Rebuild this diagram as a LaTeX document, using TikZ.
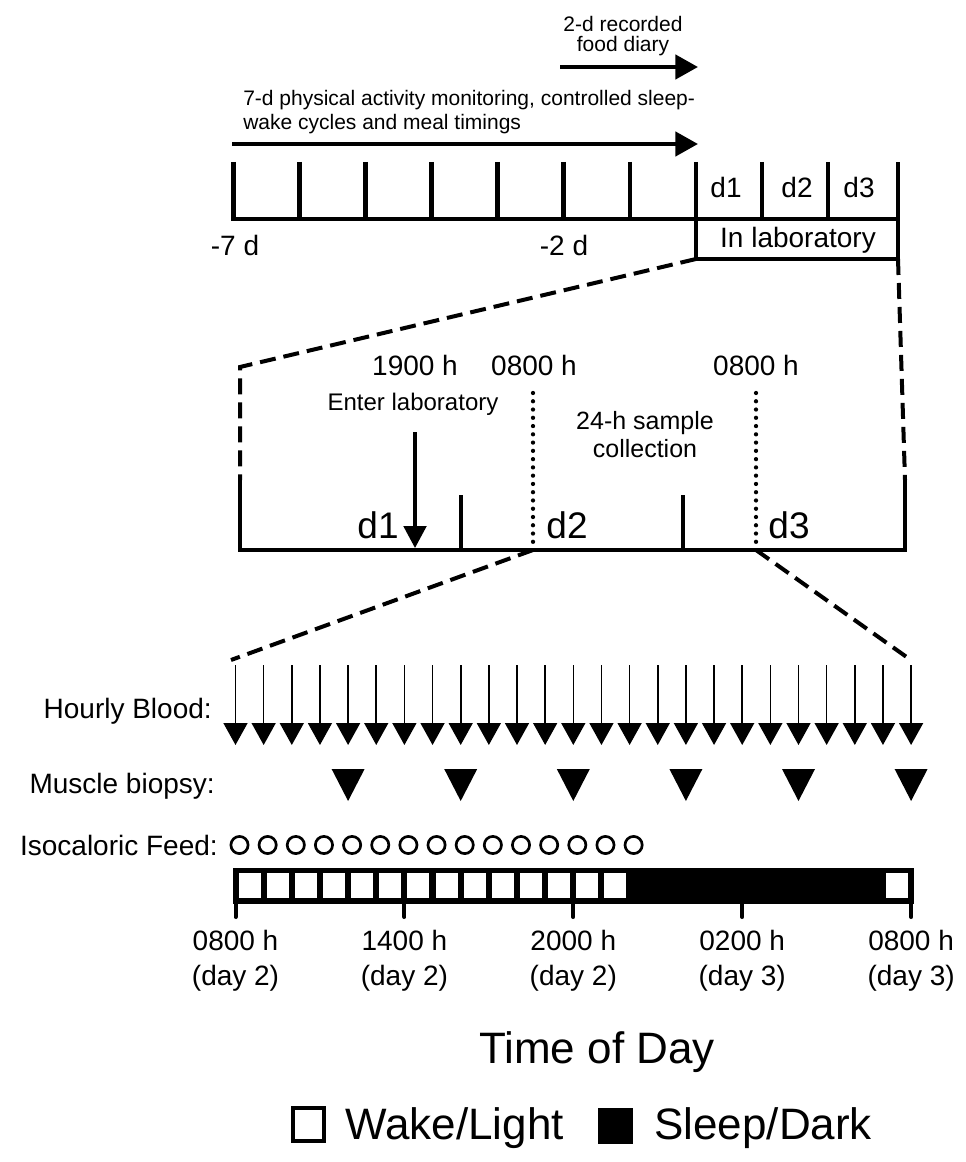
\documentclass[tikz,border=0pt]{standalone}
\usepackage{fontspec}
\setmainfont{Liberation Sans}
\usetikzlibrary{arrows.meta}
\begin{document}
\begin{tikzpicture}[x=0.75pt,y=-0.75pt,
  desc/.style={font=\fontsize{15.75}{15.4}\selectfont, inner sep=0, anchor=base},
  lbl/.style={font=\fontsize{21}{26.25}\selectfont, inner sep=0, anchor=base},
  enterlbl/.style={font=\fontsize{18}{18}\selectfont, inner sep=0, anchor=base},
  midlbl/.style={font=\fontsize{18.75}{20.5}\selectfont, inner sep=0, anchor=base},
  daylbl/.style={font=\fontsize{27.75}{28}\selectfont, inner sep=0, anchor=base},
  biglbl/.style={font=\fontsize{33}{33}\selectfont, inner sep=0, anchor=base},
  axis/.style={line width=3.5pt},
  tickline/.style={line width=3.5pt},
  midtick/.style={line width=3pt},
  bigarrow/.style={line width=3.4pt, -{Triangle[length=17pt,width=18pt]}},
  enterarrow/.style={line width=2.4pt, -{Triangle[length=16.5pt,width=17pt]}},
  zoomline/.style={line width=3pt, dash pattern=on 12pt off 6pt},
  dotline/.style={line width=3.2pt, line cap=round, dash pattern=on 0pt off 6.2pt},
  bloodarrow/.style={line width=1.2pt, -{Triangle[length=16.5pt,width=18pt]}},
  feed/.style={line width=2pt},
  bartick/.style={line width=3pt, line cap=round},
]
\useasboundingbox (0,0) rectangle (965,1162);
\fill[white] (0,0) rectangle (965,1162);

% ---------------- top timeline ----------------
\node[desc, align=center] (diary) at (623,52) {2-d recorded\\food diary};
\coordinate (diaryS) at (560,67);
\coordinate (diaryE) at (698,67);
\draw[bigarrow] (diaryS) -- (diaryE);

\node[desc, anchor=base west, align=left, font=\fontsize{15.75}{18}\selectfont] (monitor) at (243,130)
  {7-d physical activity monitoring, controlled sleep-\\wake cycles and meal timings};
\coordinate (monS) at (232,144);
\coordinate (monE) at (698,144);
\draw[bigarrow] (monS) -- (monE);

\draw[axis] (233.3,162) -- (233.3,219) -- (898,219);
\foreach \x in {299.4,365.5,431.6,497.7,563.8,629.9,762,828}
  \draw[tickline] (\x,162) -- (\x,219);
\draw[axis] (696,162) -- (696,259) -- (898,259) -- (898,162);

\node[lbl] (m7) at (235,256) {-7 d};
\node[lbl] (m2) at (564,256) {-2 d};
\node[lbl] (td1) at (726,198) {d1};
\node[lbl] (td2) at (797,198) {d2};
\node[lbl] (td3) at (859,198) {d3};
\node[lbl] (inlab) at (798,248) {In laboratory};

% ---------------- middle (in laboratory) ----------------
\coordinate (labBL) at (696,259);
\coordinate (labBR) at (898,259);
\coordinate (midTL) at (240,367);
\coordinate (midL) at (240,480);
\coordinate (midR) at (905,480);
\draw[zoomline] (labBL) -- (midTL) -- (midL);
\draw[zoomline] (labBR) -- (midR);
\draw[axis] (midL) -- (240,550) -- (905,550) -- (midR);
\draw[midtick] (461,495) -- (461,550);
\draw[midtick] (683,495) -- (683,550);
\draw[dotline] (533,393) -- (533,550);
\draw[dotline] (756,393) -- (756,550);

\node[lbl] (t1900) at (415,375) {1900 h};
\node[lbl] (t0800a) at (534,375) {0800 h};
\node[lbl] (t0800b) at (756,375) {0800 h};
\node[enterlbl] (enter) at (413,410) {Enter laboratory};
\coordinate (enterS) at (415,432);
\coordinate (enterE) at (415,548);
\draw[enterarrow] (enterS) -- (enterE);
\node[midlbl, align=center, font=\fontsize{18.75}{21}\selectfont] (sample) at (645,457) {24-h sample\\collection};
\node[daylbl] (md1) at (378,538) {d1};
\node[daylbl] (md2) at (567,538) {d2};
\node[daylbl] (md3) at (789,538) {d3};

% ---------------- bottom (24-h sampling) ----------------
\coordinate (d2pt) at (533,550);
\coordinate (d3pt) at (756,550);
\coordinate (botL) at (231,660);
\coordinate (botR) at (908,658);
\draw[zoomline] (d2pt) -- (botL);
\draw[zoomline] (d3pt) -- (botR);

\node[lbl, anchor=base east] (blood) at (212,718) {Hourly Blood:};
\node[lbl, anchor=base east] (muscle) at (215,793) {Muscle biopsy:};
\node[lbl, anchor=base east] (isofeed) at (218,855) {Isocaloric Feed:};

\foreach \h [evaluate=\h as \xx using 235.5+28.15*\h] in {0,...,24}
  \draw[bloodarrow] (\xx,665) -- (\xx,745);

\foreach \h [evaluate=\h as \xx using 235.5+28.15*\h] in {4,8,12,16,20,24}
  \fill (\xx-16.5,769) -- (\xx+16.5,769) -- (\xx,801) -- cycle;

\foreach \h [evaluate=\h as \xx using 239.5+28.15*\h] in {0,...,14}
  \draw[feed] (\xx,845) circle[radius=8.6];

% light/dark bar
\fill (233,868) rectangle (914,904);
\foreach \h [evaluate=\h as \xx using 235.5+28.15*\h] in {0,...,13,23}
  \fill[white] (\xx+3,873) rectangle (\xx+25,898);
\foreach \h [evaluate=\h as \xx using 235.5+28.15*\h] in {0,6,12,18,24}
  \draw[bartick] (\xx,904) -- (\xx,917);

\node[lbl, align=center] (l0) at (235.5,985) {0800 h\\(day 2)};
\node[lbl, align=center] (l6) at (404.4,985) {1400 h\\(day 2)};
\node[lbl, align=center] (l12) at (573.3,985) {2000 h\\(day 2)};
\node[lbl, align=center] (l18) at (742.2,985) {0200 h\\(day 3)};
\node[lbl, align=center] (l24) at (911.1,985) {0800 h\\(day 3)};

\node[biglbl] (tod) at (597,1063) {Time of Day};

% legend
\draw[line width=3pt] (293,1108) rectangle (324,1141);
\node[biglbl, anchor=base west] (wake) at (345,1139) {Wake/Light};
\fill (598,1108) rectangle (633,1144);
\node[biglbl, anchor=base west] (sleep) at (654,1139) {Sleep/Dark};
\end{tikzpicture}
\end{document}
